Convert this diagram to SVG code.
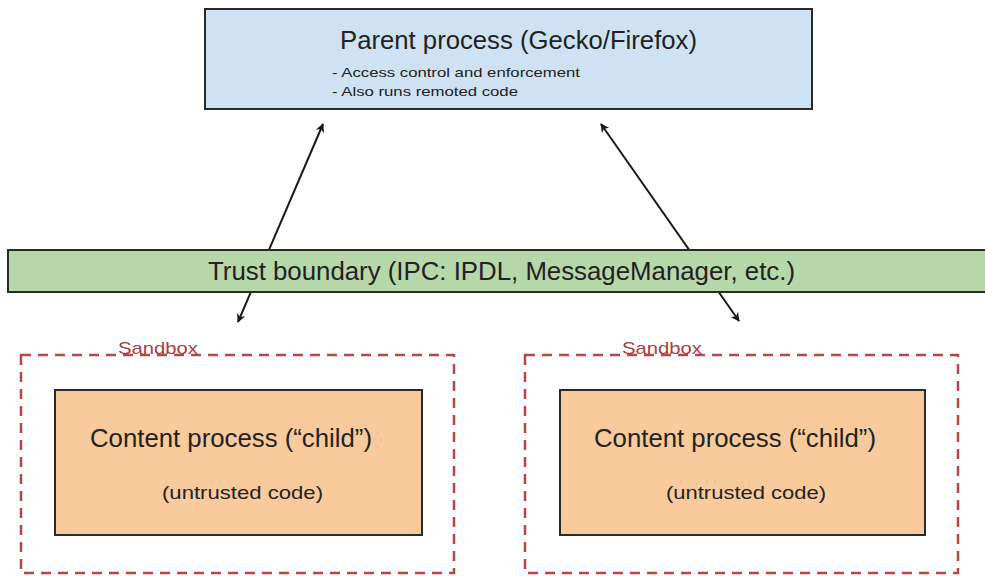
<svg xmlns="http://www.w3.org/2000/svg" width="985" height="576" viewBox="0 0 985 576">
<style>
text{font-family:"Liberation Sans",Arial,sans-serif;fill:#222}
.box{stroke:#2a2a2a;stroke-width:2}
.sb{fill:none;stroke:#b5474a;stroke-width:2.5;stroke-dasharray:10 7}
.sbl{font-size:17px;fill:#a8403f}
.big{font-size:25px}
.sm{font-size:13px}
.mid{font-size:19px}
.conn{stroke:#1a1a1a;stroke-width:2;fill:none;marker-start:url(#ah);marker-end:url(#ah)}
</style>
<defs>
<marker id="ah" viewBox="0 0 10 10" refX="9" refY="5" markerWidth="13" markerHeight="9" orient="auto-start-reverse" markerUnits="userSpaceOnUse">
<path d="M0,0 L10,5 L0,10 L3,5 z" fill="#1a1a1a"/>
</marker>
</defs>
<rect width="985" height="576" fill="#fff"/>
<g id="connectors">
<line class="conn" x1="238" y1="322" x2="323" y2="124"/>
<line class="conn" x1="739" y1="321" x2="601" y2="124"/>
</g>
<g id="parent">
<rect class="box" x="205" y="9" width="607" height="100" fill="#cfe2f3"/>
<text class="big" x="340" y="49" textLength="357" lengthAdjust="spacingAndGlyphs">Parent process (Gecko/Firefox)</text>
<text class="sm" x="332" y="77" textLength="248" lengthAdjust="spacingAndGlyphs">- Access control and enforcement</text>
<text class="sm" x="332" y="96" textLength="186" lengthAdjust="spacingAndGlyphs">- Also runs remoted code</text>
</g>
<g id="trust">
<rect class="box" x="8" y="250" width="985" height="42" fill="#b6d7a8"/>
<text class="big" x="208" y="280" textLength="587" lengthAdjust="spacingAndGlyphs">Trust boundary (IPC: IPDL, MessageManager, etc.)</text>
</g>
<g id="sandbox1">
<rect class="sb" x="21" y="355" width="433" height="218"/>
<text class="sbl" x="118" y="354" textLength="80" lengthAdjust="spacingAndGlyphs">Sandbox</text>
</g>
<g id="sandbox2">
<rect class="sb" x="525" y="355" width="433" height="218"/>
<text class="sbl" x="622" y="354" textLength="80" lengthAdjust="spacingAndGlyphs">Sandbox</text>
</g>
<g id="child1">
<rect class="box" x="55" y="390" width="367" height="145" fill="#f9cb9c"/>
<text class="big" x="90" y="447" textLength="282" lengthAdjust="spacingAndGlyphs">Content process (“child”)</text>
<text class="mid" x="162" y="499" textLength="161" lengthAdjust="spacingAndGlyphs">(untrusted code)</text>
</g>
<g id="child2">
<rect class="box" x="560" y="390" width="365" height="145" fill="#f9cb9c"/>
<text class="big" x="594" y="447" textLength="282" lengthAdjust="spacingAndGlyphs">Content process (“child”)</text>
<text class="mid" x="666" y="499" textLength="160" lengthAdjust="spacingAndGlyphs">(untrusted code)</text>
</g>
</svg>
